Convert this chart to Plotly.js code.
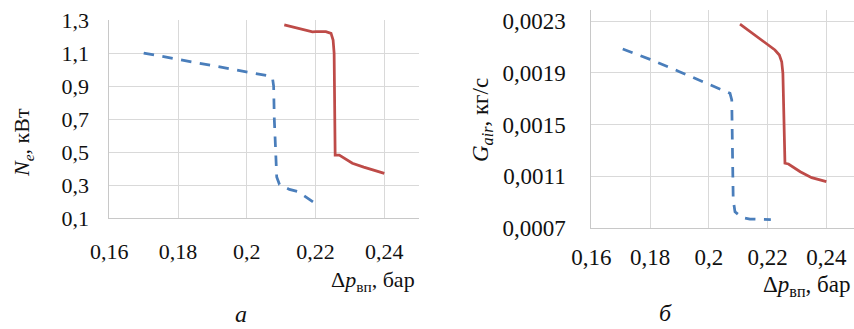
<!DOCTYPE html>
<html>
<head>
<meta charset="utf-8">
<script src="https://cdn.plot.ly/plotly-3.0.1.min.js"></script>
<style>html,body{margin:0;padding:0;background:#fff;}#chart{width:854px;height:329px;}</style>
</head>
<body>
<div id="chart"></div>
<script>
// ---- data (a): Ne vs delta p ----
const neBlueX = [0.1700, 0.1800, 0.1900, 0.2000, 0.2068, 0.2075, 0.2078, 0.2080, 0.2083, 0.2087, 0.2095, 0.2124, 0.2148, 0.2196];
const neBlueY = [1.100, 1.062, 1.024, 0.985, 0.960, 0.945, 0.900, 0.700, 0.500, 0.350, 0.305, 0.275, 0.262, 0.195];
const neRedX  = [0.2109, 0.2150, 0.2191, 0.2201, 0.2230, 0.2245, 0.2251, 0.2254, 0.2256, 0.2257, 0.2269, 0.2307, 0.2340, 0.2385, 0.2400];
const neRedY  = [1.270, 1.248, 1.228, 1.229, 1.229, 1.219, 1.179, 1.098, 0.816, 0.483, 0.483, 0.433, 0.410, 0.382, 0.372];

// ---- data (б): Gair vs delta p ----
const gBlueX = [0.1707, 0.1800, 0.1900, 0.2000, 0.2072, 0.2078, 0.2080, 0.2081, 0.2083, 0.2089, 0.2112, 0.2140, 0.2211];
const gBlueY = [0.002085, 0.002005, 0.001910, 0.001814, 0.001742, 0.001690, 0.001500, 0.001200, 0.000915, 0.000824, 0.000780, 0.000767, 0.000762];
const gRedX  = [0.2106, 0.2150, 0.2197, 0.2225, 0.2240, 0.2248, 0.2252, 0.2254, 0.2256, 0.2259, 0.2271, 0.2311, 0.2350, 0.2400];
const gRedY  = [0.002279, 0.002207, 0.002129, 0.002078, 0.002039, 0.001987, 0.001897, 0.001690, 0.001535, 0.001200, 0.001194, 0.001134, 0.001088, 0.001057];

// ---- ticks ----
const xTickVals = [0.16, 0.18, 0.20, 0.22, 0.24];
const xTickText = ["0,16", "0,18", "0,2", "0,22", "0,24"];
const neTickVals = [0.1, 0.3, 0.5, 0.7, 0.9, 1.1, 1.3];
const neTickText = ["0,1", "0,3", "0,5", "0,7", "0,9", "1,1", "1,3"];
const gTickVals = [0.0007, 0.0011, 0.0015, 0.0019, 0.0023];
const gTickText = ["0,0007", "0,0011", "0,0015", "0,0019", "0,0023"];

const W = 854, H = 329;
const px = x => x / W, py = y => 1 - y / H;
const BLUE = '#4a7ebb', RED = '#be4b48';
const FONT = '"Liberation Serif", "Times New Roman", serif';
const TXT = '#111';

const traces = [
  {x: neBlueX, y: neBlueY, xaxis: 'x', yaxis: 'y', mode: 'lines', line: {color: BLUE, width: 2.75, dash: '10.5px,8.5px'}, hoverinfo: 'skip'},
  {x: neRedX, y: neRedY, xaxis: 'x', yaxis: 'y', mode: 'lines', line: {color: RED, width: 2.75}, hoverinfo: 'skip'},
  {x: gBlueX, y: gBlueY, xaxis: 'x2', yaxis: 'y2', mode: 'lines', line: {color: BLUE, width: 2.75, dash: '10.5px,8.5px'}, hoverinfo: 'skip'},
  {x: gRedX, y: gRedY, xaxis: 'x2', yaxis: 'y2', mode: 'lines', line: {color: RED, width: 2.75}, hoverinfo: 'skip'}
];

const axCommon = {showgrid: true, gridcolor: '#d9d9d9', gridwidth: 1, zeroline: false, showline: true, linecolor: '#c8c8c8', linewidth: 1, ticks: '', fixedrange: true};

const layout = {
  width: W, height: H,
  margin: {l: 0, r: 0, t: 0, b: 0},
  paper_bgcolor: '#fff', plot_bgcolor: '#fff',
  showlegend: false,
  font: {family: FONT, color: TXT},
  xaxis: Object.assign({}, axCommon, {domain: [px(109.3), px(418.7)], range: [0.16, 0.25], tickvals: xTickVals, ticktext: xTickText, tickfont: {size: 22, family: FONT, color: TXT}, ticklabelstandoff: 13, anchor: 'y'}),
  yaxis: Object.assign({}, axCommon, {domain: [py(218.3), py(20)], range: [0.1, 1.3], tickvals: neTickVals, ticktext: neTickText, tickfont: {size: 22, family: FONT, color: TXT}, ticklabelstandoff: 15, anchor: 'x'}),
  xaxis2: Object.assign({}, axCommon, {domain: [px(591.3), 1], range: [0.16, 0.2494], tickvals: xTickVals, ticktext: xTickText, tickfont: {size: 23, family: FONT, color: TXT}, ticklabelstandoff: 9, anchor: 'y2'}),
  yaxis2: Object.assign({}, axCommon, {domain: [py(227.7), py(10)], range: [0.0007, 0.002388], tickvals: gTickVals, ticktext: gTickText, tickfont: {size: 23, family: FONT, color: TXT}, ticklabelstandoff: 20, anchor: 'x2'}),
  annotations: [
    {xref: 'paper', yref: 'paper', x: px(417), y: py(281), xanchor: 'right', yanchor: 'middle', showarrow: false, text: 'Δ<i>p</i><sub>вп</sub>, бар', font: {size: 22, family: FONT, color: TXT}},
    {xref: 'paper', yref: 'paper', x: px(852), y: py(286), xanchor: 'right', yanchor: 'middle', showarrow: false, text: 'Δ<i>p</i><sub>вп</sub>, бар', font: {size: 23, family: FONT, color: TXT}},
    {xref: 'paper', yref: 'paper', x: px(23), y: py(143), xanchor: 'center', yanchor: 'middle', textangle: -90, showarrow: false, text: '<i>N<sub>e</sub></i>, кВт', font: {size: 22, family: FONT, color: TXT}},
    {xref: 'paper', yref: 'paper', x: px(482), y: py(120), xanchor: 'center', yanchor: 'middle', textangle: -90, showarrow: false, text: '<i>G<sub>air</sub></i>, кг/с', font: {size: 23, family: FONT, color: TXT}},
    {xref: 'paper', yref: 'paper', x: px(241), y: py(314), xanchor: 'center', yanchor: 'middle', showarrow: false, text: '<i>а</i>', font: {size: 24, family: FONT, color: TXT}},
    {xref: 'paper', yref: 'paper', x: px(665), y: py(313), xanchor: 'center', yanchor: 'middle', showarrow: false, text: '<i>б</i>', font: {size: 24, family: FONT, color: TXT}}
  ]
};

Plotly.newPlot('chart', traces, layout, {staticPlot: true, displayModeBar: false});
</script>
</body>
</html>
